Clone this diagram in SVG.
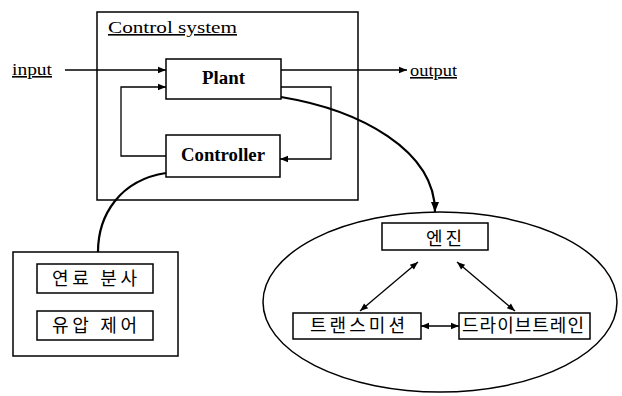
<svg xmlns="http://www.w3.org/2000/svg" width="622" height="396" viewBox="0 0 622 396">
<style>
.box{fill:#fff;stroke:#000;stroke-width:1.5}
.ln{fill:none;stroke:#000;stroke-width:1.3}
.thick{fill:none;stroke:#000;stroke-width:2.2}
.t{font-family:"Liberation Serif","Times New Roman",serif;font-size:16px;fill:#000}
.b{font-weight:bold;font-size:18px}
.k{font-family:"Noto Sans CJK KR",sans-serif;font-size:18px;fill:#000}
.u{text-decoration:underline}
</style>
<defs>
<marker id="ah" viewBox="0 0 10 10" refX="10" refY="5" markerWidth="10" markerHeight="8" markerUnits="userSpaceOnUse" orient="auto-start-reverse">
<path d="M0,1 L10,5 L0,9 z" fill="#000"/>
</marker>
<marker id="ahb" viewBox="0 0 10 10" refX="10" refY="5" markerWidth="12" markerHeight="10" markerUnits="userSpaceOnUse" orient="auto">
<path d="M0,1 L10,5 L0,9 z" fill="#000"/>
</marker>
</defs>
<g id="control-system">
<rect class="box" x="97" y="12" width="261" height="188"/>
<text class="t u" x="108" y="33" textLength="129" lengthAdjust="spacingAndGlyphs">Control system</text>
</g>
<g id="plant">
<rect class="box" x="166" y="59" width="115" height="40"/>
<text class="t b" x="202" y="84" textLength="43" lengthAdjust="spacingAndGlyphs">Plant</text>
</g>
<g id="controller">
<rect class="box" x="166" y="135" width="114" height="42"/>
<text class="t b" x="181" y="161" textLength="84" lengthAdjust="spacingAndGlyphs">Controller</text>
</g>
<g id="input"><text class="t u" x="12" y="75" textLength="40" lengthAdjust="spacingAndGlyphs">input</text></g>
<g id="output"><text class="t u" x="410" y="76" textLength="47" lengthAdjust="spacingAndGlyphs">output</text></g>
<g id="ecu">
<rect class="box" x="13" y="252" width="165" height="104"/>
<rect class="box" x="37" y="264" width="116" height="29"/>
<text class="k" x="52" y="285" textLength="85" lengthAdjust="spacing">연료 분사</text>
<rect class="box" x="37" y="311" width="116" height="29"/>
<text class="k" x="52" y="332" textLength="85" lengthAdjust="spacing">유압 제어</text>
</g>
<g id="powertrain">
<ellipse class="box" cx="440" cy="302" rx="177" ry="90"/>
</g>
<g id="engine">
<rect class="box" x="382" y="223" width="106" height="27"/>
<text class="k" x="426" y="245" textLength="36" lengthAdjust="spacing">엔진</text>
</g>
<g id="transmission">
<rect class="box" x="293" y="313" width="128" height="26"/>
<text class="k" x="310" y="332" textLength="95" lengthAdjust="spacing">트랜스미션</text>
</g>
<g id="drivetrain">
<rect class="box" x="459" y="313" width="131" height="26"/>
<text class="k" x="462" y="332" textLength="122" lengthAdjust="spacing">드라이브트레인</text>
</g>
<g id="connectors">
<path class="ln" d="M65,70 L166,70" marker-end="url(#ah)"/>
<path class="ln" d="M281,70 L407,70" marker-end="url(#ah)"/>
<path class="ln" d="M166,156 L121,156 L121,87 L166,87" marker-end="url(#ah)"/>
<path class="ln" d="M281,87 L331,87 L331,159 L280,159" marker-end="url(#ah)"/>
<path class="thick" d="M281,97 C360,110 435,150 435,212" marker-end="url(#ahb)"/>
<path class="thick" d="M166,173 C120,180 98,215 98,252"/>
<path class="ln" d="M418,262 L360,311" marker-start="url(#ah)" marker-end="url(#ah)"/>
<path class="ln" d="M457,262 L515,311" marker-start="url(#ah)" marker-end="url(#ah)"/>
<path class="ln" d="M421,326 L459,326" marker-start="url(#ah)" marker-end="url(#ah)"/>
</g>
</svg>
